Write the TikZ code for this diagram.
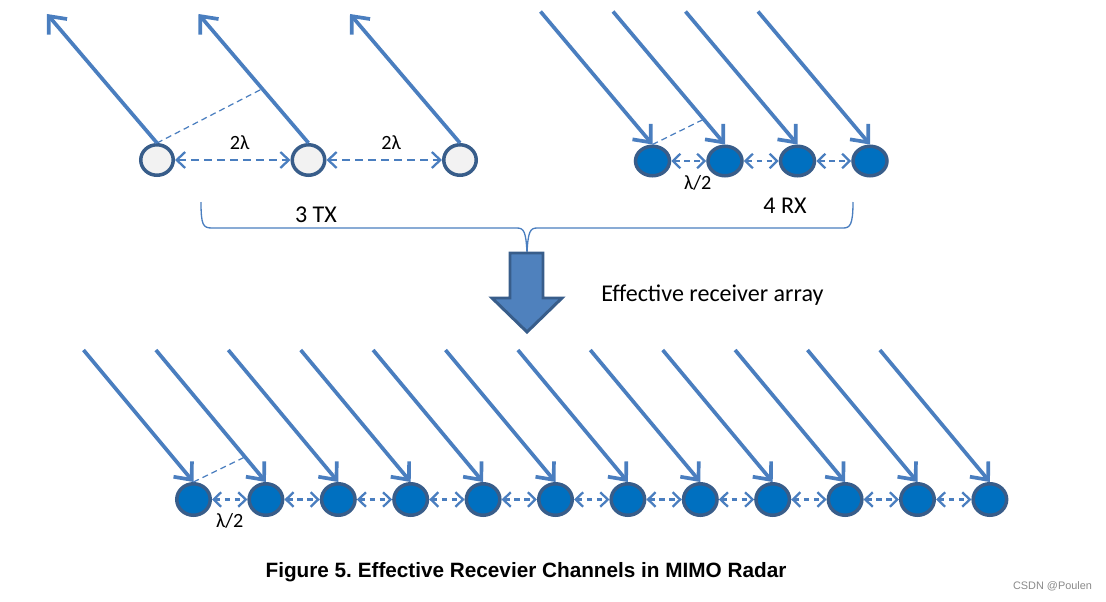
\documentclass[tikz,border=0pt]{standalone}
\usepackage{fontspec}
\setmainfont{Carlito}
\newfontfamily\captionfont{Liberation Sans}
\usepackage{tikz}
\usetikzlibrary{arrows.meta,shapes.geometric}
\definecolor{MimoBeamColor}{RGB}{74,126,191}
\definecolor{MimoRimColor}{RGB}{56,93,138}
\definecolor{MimoRxColor}{RGB}{0,112,192}
\definecolor{MimoTxColor}{RGB}{242,242,242}
\definecolor{MimoArrowColor}{RGB}{79,129,189}
\definecolor{MimoMarkColor}{RGB}{138,138,138}

\begin{document}
\begin{tikzpicture}[x=0.02cm,y=-0.02cm,
ant/.style n args={3}{ellipse,draw=MimoRimColor,line width=2pt,fill=#1,minimum width=#2,minimum height=#3,inner sep=0pt},
beam/.style={MimoBeamColor,line width=2.1pt,-{Straight Barb[length=2.8mm,width=4.8mm]}},
gap/.style={MimoBeamColor,line width=1.3pt,dash pattern=on 1.6mm off 1mm,{Straight Barb[length=1.7mm,width=3.2mm]}-{Straight Barb[length=1.7mm,width=3.2mm]}},
shortgap/.style={MimoBeamColor,line width=1.3pt,dash pattern=on 1.1mm off 0.9mm,{Straight Barb[length=1.5mm,width=2.9mm]}-{Straight Barb[length=1.5mm,width=2.9mm]}},
guide/.style={MimoBeamColor,line width=0.7pt,dash pattern=on 1.2mm off 0.8mm},
lbl/.style={text=black,font=\fontsize{11.5}{13}\selectfont,inner sep=0pt},
bigtxt/.style={font=\fontsize{13.7}{16}\selectfont,inner sep=0pt}]
\useasboundingbox (0,0) rectangle (1106,602);
% transmit antennas
\foreach \i/\x in %
{1/157,2/308.5,3/460} {
   \node[ant={MimoTxColor}{6.5mm}{6.1mm}] (tx\i) at (\x,160) {};
   \coordinate (txe\i) at ([shift={(-110,-129)}]tx\i.north);
   \draw[beam] (tx\i.north) -- (txe\i);
}
\draw[gap] (tx1.east) -- node[lbl,pos=0.56,above=5.5pt]{2λ} (tx2.west);
\draw[gap] (tx2.east) -- node[lbl,pos=0.56,above=5.5pt]{2λ} (tx3.west);
\path (tx2.north) -- (txe2) coordinate[pos=0.42] (txfoot);
\draw[guide] (tx1.north) -- (txfoot);
% receive antennas
\foreach \i in {1,...,4} {
   \node[ant={MimoRxColor}{6.8mm}{5.9mm}] (rx\i) at (580+72.5*\i,161) {};
   \coordinate (rxs\i) at ([shift={(-112,-133)}]rx\i.north);
   \draw[beam] (rxs\i) -- (rx\i.north);
}
\draw[shortgap] (rx1.east) -- node[lbl,below=7.5pt,xshift=1.8mm]{λ/2} (rx2.west);
\foreach \i/\j in {2/3,3/4} {
   \draw[shortgap] (rx\i.east) -- (rx\j.west);
}
\path (rx2.north) -- (rxs2) coordinate[pos=0.19] (rxfoot);
\draw[guide] (rx1.north) -- (rxfoot);
% brace and block arrow
\coordinate (gotop) at (527,253);
\draw[MimoBeamColor,line width=0.75pt] (201,202) .. controls (201,225) and (203,228) .. (212,228)
   -- (517,228) .. controls (524,228) and (526,232) .. (gotop)
   .. controls (528,232) and (530,228) .. (537,228)
   -- (843,228) .. controls (850,228) and (853,225) .. (853,202);
\draw[MimoRimColor,fill=MimoArrowColor,line width=1.7pt] (510,253) -- (543,253) -- (543,298)
   -- (562,298) -- (527,332) -- (492,298) -- (510,298) -- cycle;
\node[bigtxt] (txcount) at (316,215) {3 TX};
\node[bigtxt] (rxcount) at (785,206) {4 RX};
\node[bigtxt,anchor=west] (effective) at (601,295) {Effective receiver array};
% effective channels
\foreach \i in {1,...,12} {
   \node[ant={MimoRxColor}{6.7mm}{6.3mm}] (ch\i) at (121.1+72.4*\i,499.5) {};
   \coordinate (chs\i) at ([shift={(-110,-132)}]ch\i.north);
   \draw[beam] (chs\i) -- (ch\i.north);
}
\draw[shortgap] (ch1.east) -- node[lbl,below=7.5pt]{λ/2} (ch2.west);
\foreach \i [count=\j from 3] in {2,...,11} {
   \draw[shortgap] (ch\i.east) -- (ch\j.west);
}
\path (ch2.north) -- (chs2) coordinate[pos=0.19] (chfoot);
\draw[guide] (ch1.north) -- (chfoot);
\node[font=\captionfont\fontsize{11.8}{14}\selectfont\bfseries\frenchspacing] (caption) at (526,572)
   {Figure 5. Effective Recevier Channels in MIMO Radar};
\node[font=\captionfont\fontsize{6.2}{7}\selectfont,text=MimoMarkColor] (mark) at (1052.5,586) {CSDN @Poulen};
\end{tikzpicture}
\end{document}
